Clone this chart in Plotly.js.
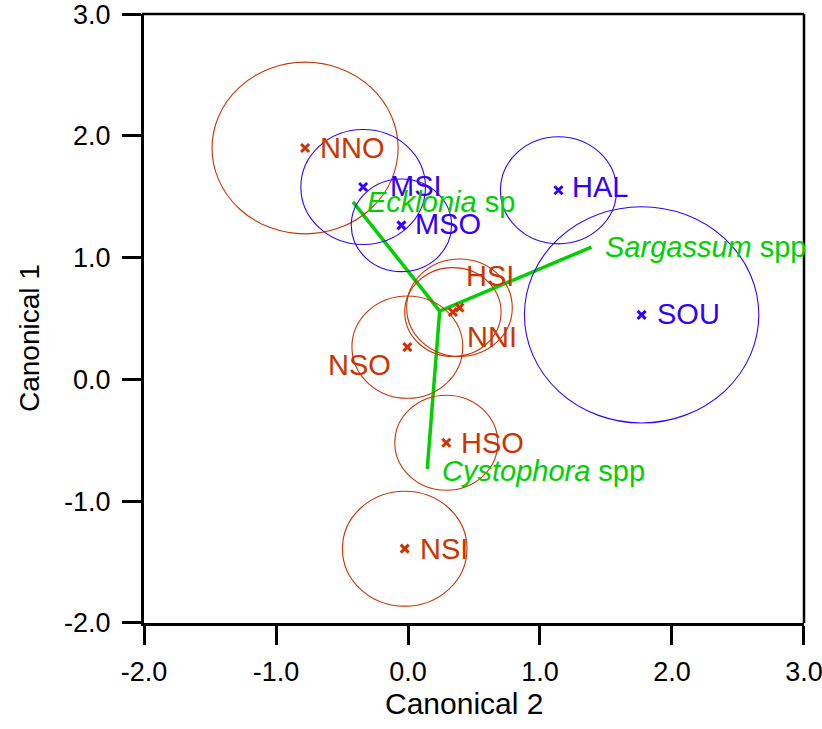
<!DOCTYPE html>
<html>
<head>
<meta charset="utf-8">
<script src="https://cdn.plot.ly/plotly-3.0.1.min.js"></script>
<style>html,body{margin:0;padding:0;background:#fff;}#chart{width:822px;height:729px;}</style>
</head>
<body>
<div id="chart"></div>
<script>
// ---- data ----
const groups  = ['NNO', 'MSI', 'MSO', 'HAL', 'SOU', 'HSI', 'NNI', 'NSO', 'HSO', 'NSI'];
const canon2  = [-0.78, -0.34, -0.05, 1.14, 1.77, 0.39, 0.34, -0.005, 0.29, -0.025];
const canon1  = [1.90, 1.58, 1.265, 1.553, 0.53, 0.589, 0.553, 0.265, -0.52, -1.39];
const radius  = [0.705, 0.472, 0.38, 0.44, 0.888, 0.40, 0.365, 0.42, 0.39, 0.472];
const region  = ['N', 'M', 'M', 'M', 'M', 'N', 'N', 'N', 'N', 'N'];

const species   = ['<i>Ecklonia</i> sp', '<i>Sargassum</i> spp', '<i>Cystophora</i> spp'];
const vecOrigin = [0.24, 0.56];
const vecEnd2   = [-0.417, 1.39, 0.146];
const vecEnd1   = [1.457, 1.087, -0.734];

const tickVals   = [-2, -1, 0, 1, 2, 3];
const tickLabels = ['-2.0', '-1.0', '0.0', '1.0', '2.0', '3.0'];

// ---- styles ----
const ORANGE = '#CC3300', BLUE = '#3300FF', GREEN = '#00D000';
const FONT = 'Arial, "Liberation Sans", Helvetica, sans-serif';
const colourOf = r => r === 'M' ? BLUE : ORANGE;

// label offsets (pixels) relative to the point / vector end
const labelOffset = {
  NNO: {dx: 13, dy: 0, anchor: 'left'},
  MSI: {dx: 25, dy: 1, anchor: 'left'},
  MSO: {dx: 12, dy: 1, anchor: 'left'},
  HAL: {dx: 12, dy: 3, anchor: 'left'},
  SOU: {dx: 13, dy: 1, anchor: 'left'},
  HSI: {dx: 5, dy: 32, anchor: 'left'},
  NNI: {dx: 12, dy: -25, anchor: 'left'},
  NSO: {dx: -14, dy: -18, anchor: 'right'},
  HSO: {dx: 13, dy: 0, anchor: 'left'},
  NSI: {dx: 13, dy: 0, anchor: 'left'}
};
const speciesOffset = [{dx: 12, dy: 0}, {dx: 12, dy: 0}, {dx: 13, dy: -2}];

const traces = [];
// biplot vectors
for (let i = 0; i < species.length; i++) {
  traces.push({
    type: 'scatter', mode: 'lines',
    x: [vecOrigin[0], vecEnd2[i]], y: [vecOrigin[1], vecEnd1[i]],
    line: {color: GREEN, width: 3.5}, hoverinfo: 'skip', cliponaxis: false
  });
}
// group centroids
['N', 'M'].forEach(r => {
  const idx = groups.map((g, i) => i).filter(i => region[i] === r);
  traces.push({
    type: 'scatter', mode: 'markers',
    x: idx.map(i => canon2[i]), y: idx.map(i => canon1[i]),
    text: idx.map(i => groups[i]),
    marker: {symbol: 'x-thin', size: 8, color: colourOf(r), line: {color: colourOf(r), width: 3}}
  });
});

const shapes = groups.map((g, i) => ({
  type: 'circle', xref: 'x', yref: 'y', layer: 'above',
  x0: canon2[i] - radius[i], x1: canon2[i] + radius[i],
  y0: canon1[i] - radius[i], y1: canon1[i] + radius[i],
  line: {color: colourOf(region[i]), width: 1.1}
}));
// top and right frame lines
shapes.push({type: 'line', xref: 'paper', yref: 'paper', x0: -0.003, x1: 1.0, y0: 1, y1: 1, line: {color: '#000', width: 2.5}});
shapes.push({type: 'line', xref: 'paper', yref: 'paper', x0: 1, x1: 1, y0: 0, y1: 1, line: {color: '#000', width: 2.5}});

const annotations = groups.map((g, i) => ({
  x: canon2[i], y: canon1[i], xref: 'x', yref: 'y', text: g, showarrow: false,
  xanchor: labelOffset[g].anchor, yanchor: 'middle',
  xshift: labelOffset[g].dx, yshift: labelOffset[g].dy,
  font: {family: FONT, size: 29, color: colourOf(region[i])}
}));
species.forEach((s, i) => annotations.push({
  x: vecEnd2[i], y: vecEnd1[i], xref: 'x', yref: 'y', text: s, showarrow: false,
  xanchor: 'left', yanchor: 'middle', xshift: speciesOffset[i].dx, yshift: speciesOffset[i].dy,
  font: {family: FONT, size: 29, color: GREEN}
}));
// axis titles
annotations.push({xref: 'paper', yref: 'paper', x: (464 - 144) / 659, y: 0, yshift: -80, yanchor: 'middle',
  text: 'Canonical 2', showarrow: false, font: {family: FONT, size: 30, color: '#000'}});
annotations.push({xref: 'paper', yref: 'paper', x: 0, xshift: -115, y: (623 - 338) / 609, textangle: -90,
  xanchor: 'center', yanchor: 'middle',
  text: 'Canonical 1', showarrow: false, font: {family: FONT, size: 28, color: '#000'}});

const axisCommon = {
  tickmode: 'array', tickvals: tickVals, ticktext: tickLabels, ticks: 'outside', ticklen: 19, tickwidth: 3, tickcolor: '#000',
  showline: true, linewidth: 3, linecolor: '#000', showgrid: false, zeroline: false,
  tickfont: {family: FONT, size: 27, color: '#000'}, fixedrange: true, ticklabeloverflow: 'allow'
};

const layout = {
  width: 822, height: 729,
  margin: {l: 144, r: 18, t: 14, b: 106},
  paper_bgcolor: '#fff', plot_bgcolor: '#fff',
  showlegend: false,
  xaxis: Object.assign({}, axisCommon, {range: [-2.0005, 3.0005], ticklabelstandoff: 4}),
  yaxis: Object.assign({}, axisCommon, {range: [-2.0005, 3.0005], ticklabelstandoff: 6}),
  shapes: shapes,
  annotations: annotations
};

Plotly.newPlot('chart', traces, layout, {displayModeBar: false, staticPlot: true});
</script>
</body>
</html>
